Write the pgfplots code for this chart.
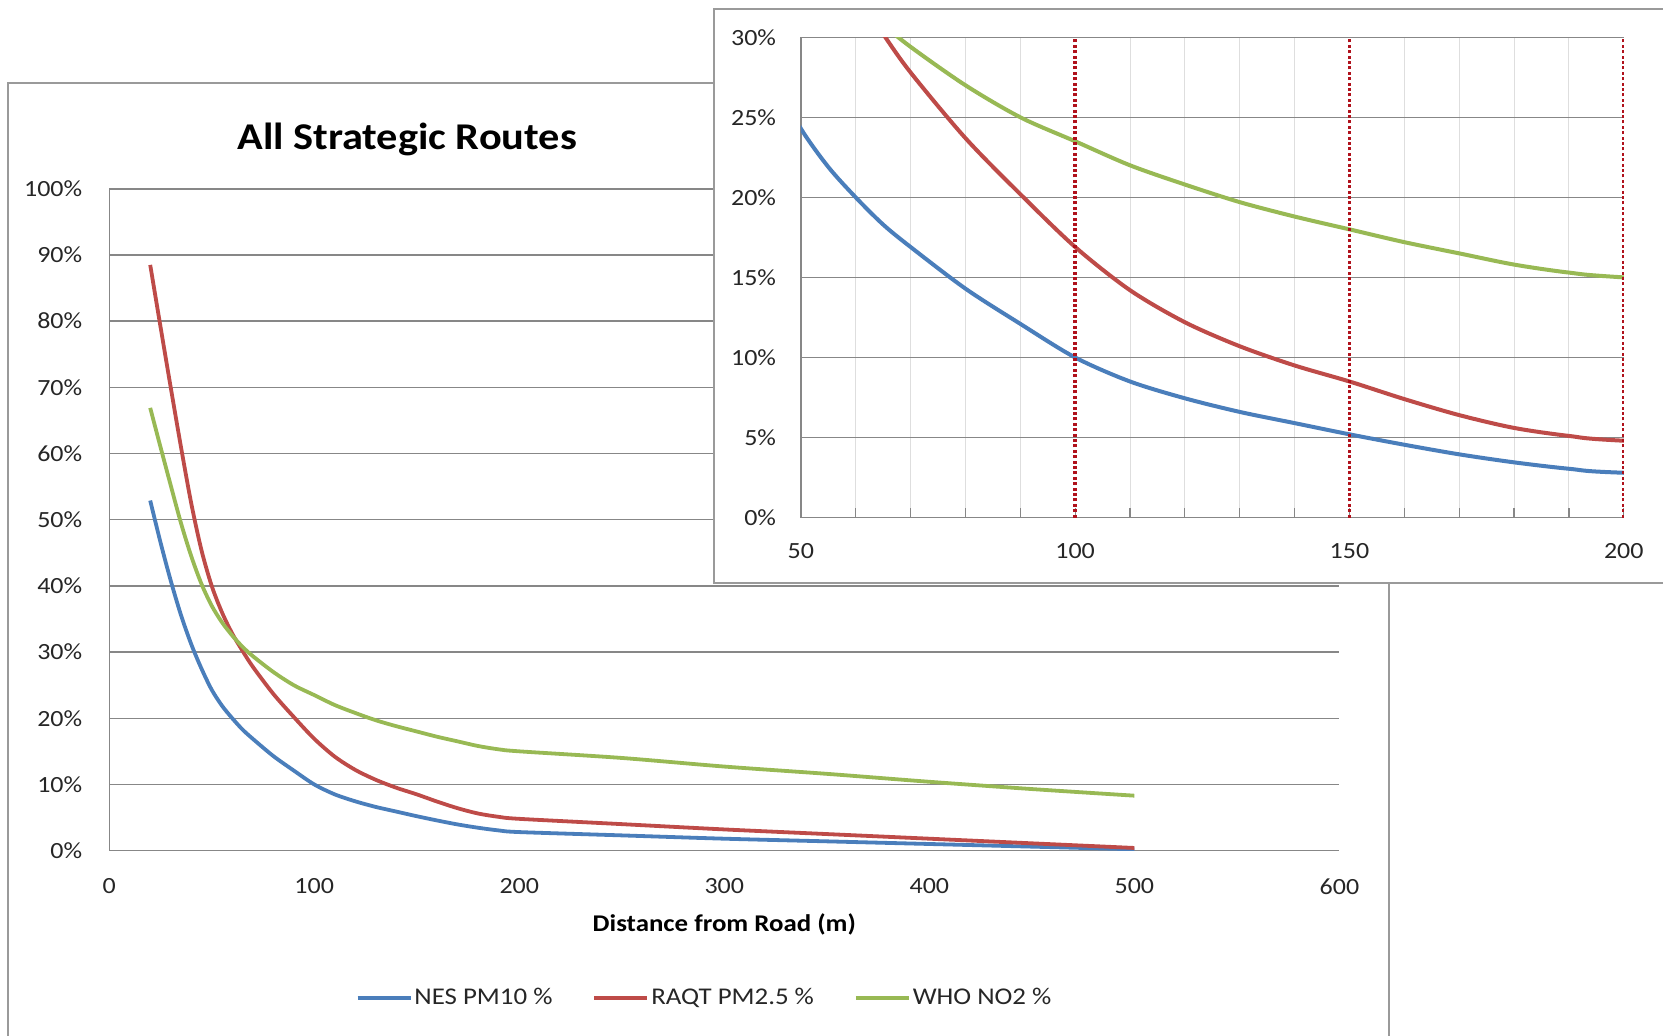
\documentclass[border=0pt]{standalone}
\usepackage{fontspec}
\setmainfont[FakeStretch=1.12]{Carlito}
\usepackage{pgfplots}
\pgfplotsset{compat=1.18}
\usepackage{pgfplotstable}
\definecolor{cBlue}{HTML}{4A7EBB}
\definecolor{cRed}{HTML}{BE4B48}
\definecolor{cGreen}{HTML}{98B954}
\definecolor{cGrid}{HTML}{878787}
\definecolor{cMinor}{HTML}{DEDEDE}
\definecolor{cDot}{HTML}{B0121C}
\definecolor{cBox}{HTML}{9A9A9A}

\pgfplotstableread{
x nes raqt who
20 52.9 88.5 66.9
25 46.6 79.2 61.0
30 40.8 70.0 55.2
35 35.6 61.0 49.5
40 31.2 52.5 44.5
45 27.5 45.4 40.3
50 24.3 40.0 37.0
55 21.9 36.0 34.5
60 20.0 32.8 32.5
65 18.3 30.2 30.8
70 16.9 27.8 29.4
80 14.3 23.7 27.0
90 12.1 20.2 25.0
100 10.0 16.9 23.5
110 8.5 14.2 22.0
120 7.45 12.2 20.8
130 6.6 10.7 19.7
140 5.9 9.5 18.8
150 5.2 8.5 18.0
160 4.55 7.4 17.2
170 3.95 6.4 16.5
180 3.45 5.6 15.8
190 3.05 5.1 15.3
200 2.8 4.8 15.0
250 2.3 4.0 14.0
300 1.8 3.2 12.7
350 1.4 2.5 11.6
400 1.0 1.8 10.4
450 0.6 1.1 9.3
500 0.2 0.4 8.3
}\data

\newcommand{\tickfont}{\fontsize{11.6}{13}\selectfont}

\begin{document}
\begin{tikzpicture}
\path[use as bounding box] (0pt,0pt) rectangle (831.5pt,517.6pt);
% main chart frame
\draw[cBox, line width=1pt] (4.2pt,-2pt) -- (4.2pt,476.2pt) -- (694.7pt,476.2pt) -- (694.7pt,-2pt);

\begin{axis}[
  at={(54.6pt,92.3pt)}, anchor=south west,
  scale only axis, width=615.1pt, height=330.9pt,
  xmin=0, xmax=600, ymin=0, ymax=100,
  axis lines*=left,
  axis line style={cGrid, line width=0.7pt},
  major tick length=0pt,
  xtick={0,100,200,300,400,500,600},
  xticklabels={0,100,200,300,400,500,600},
  ytick={0,10,20,30,40,50,60,70,80,90,100},
  yticklabels={0\%,10\%,20\%,30\%,40\%,50\%,60\%,70\%,80\%,90\%,100\%},
  ymajorgrids, grid style={cGrid, line width=0.7pt},
  tick label style={font=\tickfont, text=black!85, inner sep=0pt},
  yticklabel style={xshift=-13.3pt},
  xticklabel style={yshift=-13.8pt},
  xlabel={Distance from Road (m)},
  xlabel style={at={(axis description cs:0.5,0)}, anchor=center, yshift=-37.1pt, font=\fontsize{12}{14}\selectfont\bfseries},
  title={All Strategic Routes},
  title style={at={(axis description cs:0.2422,1)}, anchor=center, yshift=18.7pt, font=\fontsize{18.9}{22}\selectfont\bfseries},
  legend columns=3,
  legend style={draw=none, fill=none, inner sep=0pt, at={(axis description cs:0.2000,-0.2227)}, anchor=west,
    font=\fontsize{12}{14}\selectfont, text=black!85,
    nodes={inner sep=1pt},
    /tikz/every even column/.append style={column sep=19pt}},
  legend image code/.code={\draw[#1, line width=1.9pt] (0pt,0pt) -- (26.5pt,0pt);},
  every axis plot/.append style={line width=1.9pt, smooth, tension=0.5},
]
\addplot[cBlue] table[x=x, y=nes] {\data};
\addlegendentry{NES PM10 \%}
\addplot[cRed] table[x=x, y=raqt] {\data};
\addlegendentry{RAQT PM2.5 \%}
\addplot[cGreen] table[x=x, y=who] {\data};
\addlegendentry{WHO NO2 \%}
\end{axis}

% inset frame
\draw[cBox, line width=1pt, fill=white] (356.9pt,225.9pt) rectangle (840pt,513.3pt);

\begin{axis}[
  at={(400.4pt,258.8pt)}, anchor=south west,
  scale only axis, width=411.5pt, height=240.2pt,
  xmin=50, xmax=200, ymin=0, ymax=30,
  axis lines*=left,
  axis line style={cGrid, line width=0.7pt},
  xtick={50,100,150,200},
  xticklabels={50,100,150,200},
  minor xtick={60,70,80,90,110,120,130,140,160,170,180,190},
  xtick pos=bottom, tick align=inside,
  major tick length=5pt, minor tick length=5pt,
  xtick style={cGrid, line width=0.6pt},
  ytick style={draw=none},
  ytick={0,5,10,15,20,25,30},
  yticklabels={0\%,5\%,10\%,15\%,20\%,25\%,30\%},
  ymajorgrids, grid style={cGrid, line width=0.7pt},
  xminorgrids, minor grid style={cMinor, line width=0.5pt},
  tick label style={font=\tickfont, text=black!85, inner sep=0pt},
  yticklabel style={xshift=-12.2pt},
  xticklabel style={yshift=-12.8pt},
  every axis plot/.append style={line width=2pt, smooth, tension=0.5},
]
\addplot[cBlue] table[x=x, y=nes] {\data};
\addplot[cRed] table[x=x, y=raqt] {\data};
\addplot[cGreen] table[x=x, y=who] {\data};
\addplot[cDot, line width=1.7pt, dash pattern=on 1.5pt off 1.2pt, sharp plot] coordinates {(100,0) (100,30)};
\addplot[cDot, line width=1.7pt, dash pattern=on 1.5pt off 1.2pt, sharp plot] coordinates {(150,0) (150,30)};
\addplot[cDot, line width=1.7pt, dash pattern=on 1.5pt off 1.2pt, sharp plot] coordinates {(200,0) (200,30)};
\end{axis}
\end{tikzpicture}
\end{document}
